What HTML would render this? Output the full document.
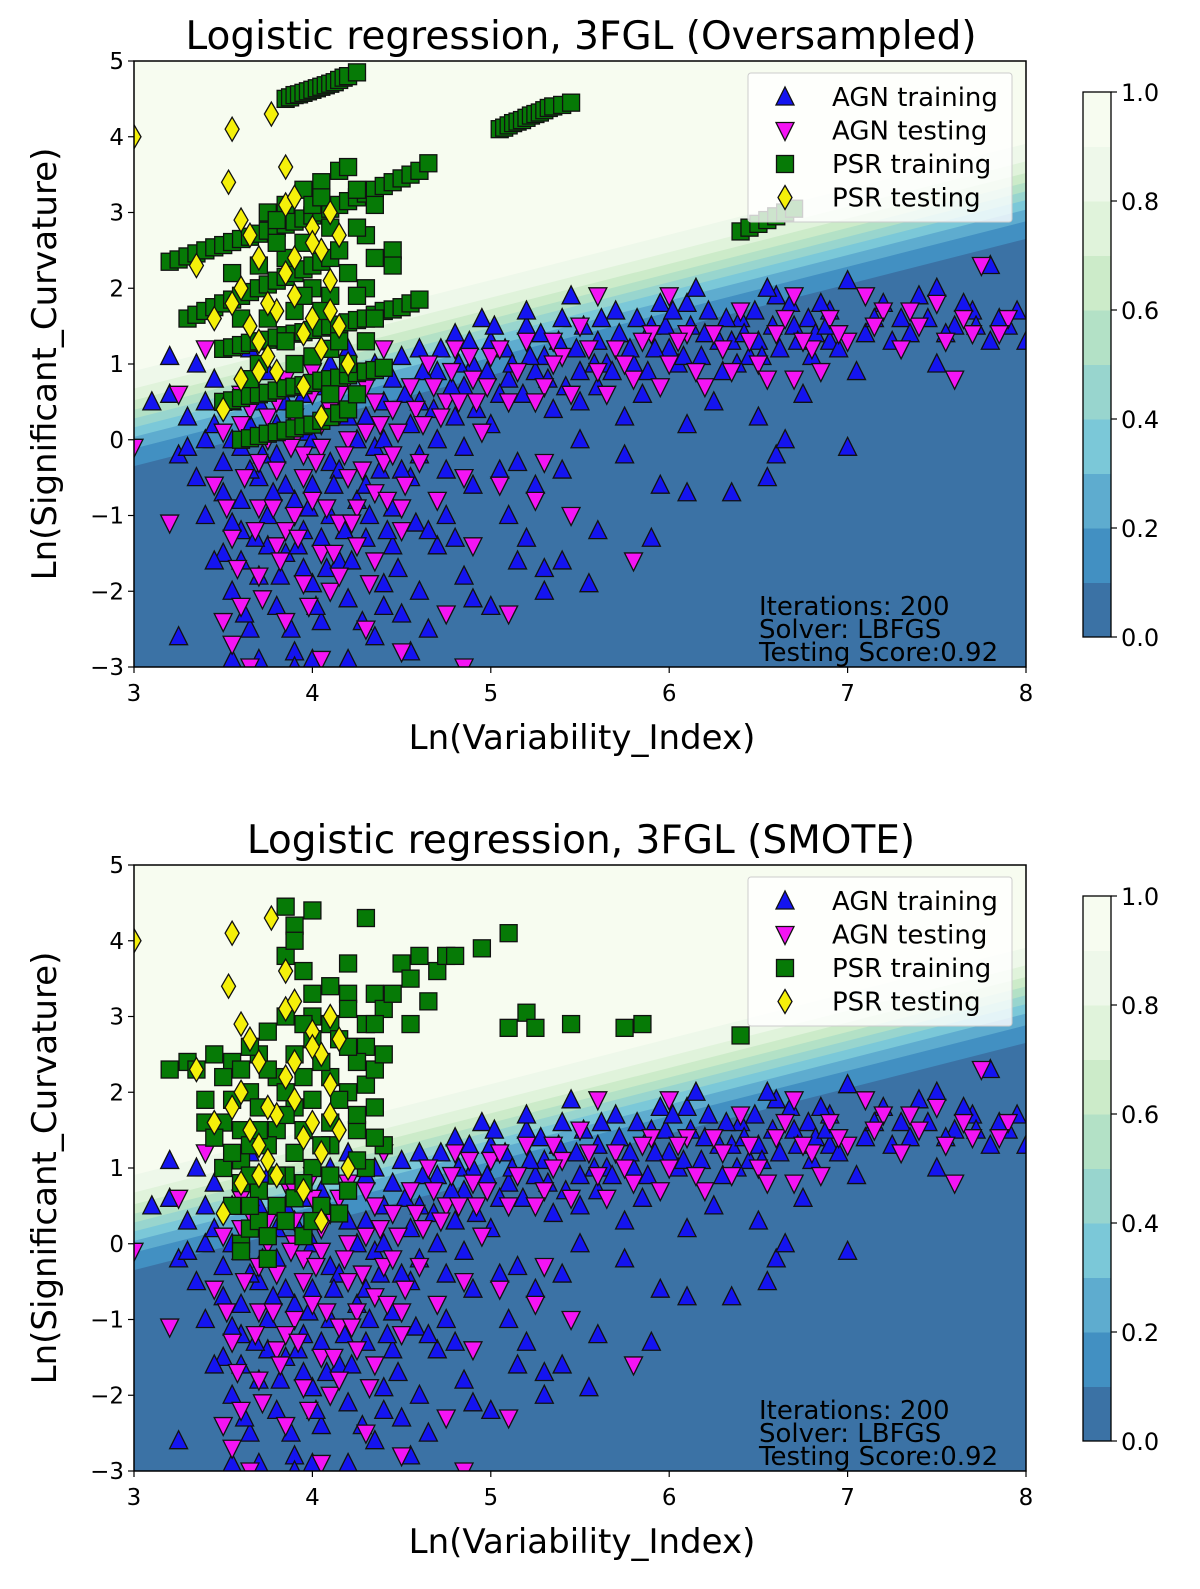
<!DOCTYPE html>
<html><head><meta charset="utf-8"><style>
html,body{margin:0;padding:0;background:#fff;overflow:hidden;width:1200px;height:1589px;}
svg{display:block;font-family:"DejaVu Sans","Liberation Sans",sans-serif;}
</style></head><body>
<svg id="fig" width="1200" height="1589" viewBox="0 0 1200 1589" xmlns="http://www.w3.org/2000/svg"></svg>
<script>
// ---- data ----
const agnTrain = [[4.6,1.2],[4.7,0.9],[4.8,1.4],[4.9,1.0],[5.0,1.3],[5.1,0.8],[5.2,1.5],[5.3,1.1],[5.4,1.6],[5.5,0.9],[5.6,1.3],[5.7,1.7],[5.8,1.0],[5.9,1.5],[6.0,1.2],[6.1,1.8],[6.2,1.4],[6.3,0.9],[6.4,1.6],[6.5,1.3],[6.6,1.9],[6.7,1.5],[6.8,1.1],[6.9,1.7],[7.0,2.1],[7.1,1.4],[7.2,1.8],[7.3,1.6],[7.4,1.9],[7.5,2.0],[7.6,1.5],[7.7,1.7],[7.8,2.3],[7.9,1.5],[8.0,1.3],[5.05,0.6],[5.35,0.4],[5.6,0.7],[5.85,0.6],[6.05,1.0],[6.25,0.5],[6.45,1.1],[6.75,0.6],[7.05,0.9],[7.5,1.0],[7.8,1.3],[6.1,0.2],[5.75,0.3],[5.45,1.9],[5.2,1.7],[4.95,1.6],[6.55,2.0],[6.15,2.0],[5.95,1.8],[6.85,1.8],[7.25,1.3],[7.65,1.8],[6.5,0.3],[6.6,-0.2],[6.55,-0.5],[6.65,0.0],[7.0,-0.1],[6.35,-0.7],[6.1,-0.7],[5.9,-1.3],[5.95,-0.6],[5.6,-1.2],[5.55,-1.9],[5.4,-1.6],[5.3,-1.7],[5.2,-1.3],[5.1,-1.0],[5.0,-2.2],[4.85,-1.8],[4.7,-1.4],[4.6,-2.0],[4.9,-0.6],[5.15,-0.3],[5.4,-0.4],[5.5,0.0],[5.75,-0.2],[4.75,-1.0],[4.55,-0.5],[4.65,-2.5],[4.55,-2.8],
[3.1,0.5],[3.2,0.6],[3.2,1.1],[3.25,-0.2],[3.3,0.3],[3.35,-0.5],[3.4,0.0],[3.4,-1.0],[3.45,0.8],[3.5,-0.3],[3.5,-1.5],[3.55,0.5],[3.55,-2.0],[3.6,-0.8],[3.6,-1.2],[3.65,0.2],[3.65,-2.5],[3.7,-0.5],[3.7,-1.8],[3.75,0.9],[3.75,-1.0],[3.8,-0.2],[3.8,-2.2],[3.85,-1.5],[3.85,0.5],[3.9,-0.8],[3.9,-2.8],[3.95,-1.2],[3.95,0.1],[4.0,-0.6],[4.0,-1.9],[4.05,0.7],[4.05,-2.4],[4.1,-1.0],[4.1,-0.3],[4.15,-1.6],[4.2,0.3],[4.2,-2.1],[4.25,-0.8],[4.3,-1.3],[4.3,0.9],[4.35,-0.1],[4.4,-1.9],[4.4,0.5],[4.45,-0.9],[4.5,1.1],[4.5,-0.4],[4.55,0.2],[3.25,-2.6],[3.55,-2.9],[3.7,-2.9],[3.9,-3.0],[4.0,-2.9],[4.2,-2.9],[4.35,-2.6],[4.4,-2.2],[3.45,-1.6],[3.6,-0.1],[3.75,-1.4],[3.85,-0.6],[4.15,-0.4],[4.25,0.0],[4.45,-1.4],[3.95,0.6],[4.1,1.0],[3.35,1.0],[3.65,1.2],[4.3,-0.6],[3.95,-1.7],[4.05,-1.3],[4.6,0.5],[4.8,0.3],[4.7,0.0],[5.0,0.2],[4.85,0.7],[5.25,0.9],[5.5,0.5],[5.65,1.0],[6.35,1.3],[6.9,1.3],
[3.5,-0.7],[3.55,-1.1],[3.6,-1.6],[3.62,-2.3],[3.68,-1.3],[3.72,-0.2],[3.78,-0.7],[3.82,-1.8],[3.88,-2.5],[3.92,-1.4],[3.98,-0.9],[4.02,-2.2],[4.08,-1.7],[4.12,-0.6],[4.18,-1.2],[4.22,-1.6],[4.28,-2.4],[4.32,-1.0],[4.38,-0.4],[4.42,-1.2],[4.48,-1.7],[4.52,0.6],[4.58,-1.1],[4.62,0.9],[4.68,0.4],[4.72,1.2],[4.78,0.7],[4.82,1.0],[4.88,1.3],[4.92,0.4],[4.98,0.9],[5.02,1.5],[5.08,1.2],[5.12,1.0],[5.18,0.6],[5.22,1.1],[5.28,1.4],[5.32,0.8],[5.38,1.3],[5.42,0.7],[5.48,1.2],[5.52,1.5],[5.58,1.0],[5.62,1.6],[5.68,0.9],[5.72,1.4],[5.78,1.2],[5.82,1.6],[5.88,0.9],[5.92,1.2],[5.98,1.5],[6.02,1.7],[6.08,1.1],[6.12,1.5],[6.18,1.1],[6.22,1.7],[6.28,1.3],[6.32,1.6],[6.38,1.0],[6.42,1.4],[6.48,1.7],[6.52,1.1],[6.58,1.5],[6.62,1.2],[6.68,1.8],[6.72,1.3],[6.78,1.6],[6.82,1.4],[6.88,1.5],[6.95,1.2],[7.15,1.6],[7.35,1.4],[7.45,1.6],[7.55,1.4],[7.72,1.5],[7.85,1.6],[7.95,1.7],[4.2,1.2],[4.35,1.0],[4.45,0.8],[4.6,-0.2],[4.75,-0.4],[4.85,-0.1],[5.05,-0.4],[5.25,-0.6],[4.65,-1.2],[4.8,-1.3],[5.15,-1.6],[5.3,-2.0],[4.9,-2.1],[4.5,-2.3],[3.3,-0.1],[3.4,0.5],[3.45,0.2],[3.55,0.0],[3.65,-0.4],[3.7,0.5],[3.8,0.2],[3.9,0.3],[4.0,0.0],[4.1,0.4],[4.3,0.3],[4.4,0.0]];
const agnTest = [[3.0,-0.1],[3.2,-1.1],[3.25,0.6],[3.4,1.2],[3.45,-0.6],[3.5,0.1],[3.55,-1.3],[3.6,-2.2],[3.65,0.4],[3.7,-0.9],[3.7,-1.8],[3.75,0.0],[3.8,-0.4],[3.8,-1.4],[3.85,0.8],[3.85,-2.4],[3.9,-1.0],[3.9,0.3],[3.95,-0.2],[3.95,-1.9],[4.0,0.6],[4.0,-0.8],[4.05,-1.5],[4.05,-0.1],[4.1,0.4],[4.1,-2.0],[4.15,-1.1],[4.2,0.8],[4.2,-0.5],[4.25,-1.4],[4.3,0.1],[4.3,-2.5],[4.35,-0.7],[4.4,1.2],[4.4,-0.3],[4.45,0.4],[4.5,-1.2],[4.55,0.7],[4.6,-0.3],[4.65,1.0],[4.7,-0.8],[4.75,0.5],[4.8,1.2],[4.85,-0.5],[4.9,0.8],[5.0,1.1],[5.1,0.5],[5.2,1.3],[5.3,0.7],[5.4,1.1],[5.5,1.5],[5.6,0.9],[5.7,1.2],[5.8,0.8],[5.9,1.4],[6.0,1.0],[6.1,1.4],[6.2,0.7],[6.3,1.2],[6.4,1.7],[6.5,1.0],[6.6,1.4],[6.7,0.8],[6.8,1.2],[6.9,1.6],[7.0,1.3],[7.2,1.7],[7.3,1.2],[7.5,1.8],[7.6,0.8],[7.7,1.4],[7.75,2.3],[7.9,1.6],[7.4,1.5],[5.8,-1.6],[5.05,-0.6],[5.25,-0.8],[4.75,-2.3],[5.1,-2.3],[4.9,-1.4],[4.5,-2.8],[4.85,-3.0],[3.55,-2.7],[3.5,-2.4],[3.65,-3.0],[4.05,-2.9],[4.5,-0.9],[5.45,-1.0],[5.3,-0.3],[4.95,0.1],[6.0,1.9],[5.6,1.9],[6.7,1.9],[7.1,1.9],[5.35,1.3],[3.6,0.6],[3.75,0.3],[3.9,0.0],[4.05,0.2],[4.2,0.0],[4.35,0.5],[4.25,-0.9],[3.95,-0.5],[3.7,-0.3],[4.15,-1.8],[3.85,-1.2],[4.35,-1.6],
[3.52,-0.9],[3.58,-1.7],[3.62,-0.5],[3.68,-1.2],[3.72,-2.1],[3.78,-0.9],[3.82,-1.6],[3.88,-0.1],[3.92,-1.3],[3.98,-2.2],[4.02,-0.3],[4.08,-0.9],[4.12,-1.5],[4.18,-0.2],[4.22,-1.1],[4.28,-0.4],[4.32,-1.9],[4.38,0.2],[4.42,-0.8],[4.48,0.1],[4.52,-0.6],[4.58,0.4],[4.62,0.2],[4.68,0.7],[4.72,0.3],[4.78,0.9],[4.82,0.5],[4.88,1.1],[4.92,0.5],[4.98,0.7],[5.05,1.2],[5.15,0.9],[5.25,0.5],[5.35,1.0],[5.45,0.6],[5.55,1.2],[5.65,0.6],[5.75,1.0],[5.85,1.3],[5.95,0.7],[6.05,1.3],[6.15,0.9],[6.25,1.4],[6.35,0.9],[6.45,1.3],[6.55,0.8],[6.65,1.6],[6.75,1.3],[6.85,0.9],[6.95,1.4],[7.15,1.5],[7.35,1.7],[7.55,1.3],[7.65,1.6],[7.85,1.4],[3.9,0.7],[4.0,0.9],[4.15,0.6],[4.3,0.7],[3.8,0.5],[3.6,0.2],[4.45,-0.2]];
const psrTest = [[3.0,4.0],[3.55,4.1],[3.53,3.4],[3.77,4.3],[3.85,3.6],[3.35,2.3],[3.6,2.9],[3.7,2.4],[3.85,3.1],[3.9,3.2],[4.0,2.8],[4.05,2.5],[4.1,3.0],[3.55,1.8],[3.6,2.0],[3.65,1.5],[3.7,1.3],[3.75,1.1],[3.8,1.7],[3.85,2.2],[3.9,1.9],[3.95,1.4],[4.0,1.6],[4.05,1.2],[4.1,2.1],[4.15,1.5],[4.2,1.0],[3.6,0.8],[3.5,0.4],[3.8,0.9],[3.95,0.7],[4.0,2.6],[4.15,2.7],[4.05,0.3],[3.9,2.4],[3.65,2.7],[3.75,1.8],[3.45,1.6],[4.1,1.7],[3.7,0.9]];
const psrTrainOver = [[3.85,4.5],[3.875,4.52],[3.9,4.55],[3.925,4.56],[3.95,4.58],[3.975,4.6],[4.0,4.62],[4.025,4.64],[4.05,4.66],[4.075,4.68],[4.1,4.7],[4.125,4.72],[4.15,4.75],[4.175,4.78],[4.2,4.8],[4.25,4.85],
[5.05,4.1],[5.075,4.12],[5.1,4.15],[5.125,4.18],[5.15,4.2],[5.175,4.22],[5.2,4.25],[5.225,4.28],[5.25,4.3],[5.275,4.32],[5.3,4.35],[5.325,4.38],[5.35,4.4],[5.4,4.42],[5.45,4.45],
[3.2,2.35],[3.25,2.38],[3.3,2.42],[3.35,2.46],[3.4,2.5],[3.45,2.54],[3.5,2.57],[3.55,2.61],[3.6,2.65],[3.65,2.68],[3.7,2.72],[3.75,2.76],[3.8,2.8],[3.85,2.84],[3.9,2.88],[3.95,2.92],[4.0,2.96],[4.05,3.0],[4.1,3.05],[4.15,3.1],[4.2,3.15],[4.25,3.2],[4.3,3.25],[4.35,3.3],[4.4,3.35],[4.45,3.4],[4.5,3.45],[4.55,3.5],[4.6,3.55],[4.65,3.65],
[3.3,1.6],[3.35,1.65],[3.4,1.7],[3.45,1.75],[3.5,1.8],[3.55,1.85],[3.6,1.9],[3.65,1.95],[3.7,2.0],[3.75,2.05],[3.8,2.1],[3.85,2.15],[3.9,2.2],[3.95,2.25],[4.0,2.3],[4.05,2.35],[4.1,2.4],
[3.5,1.2],[3.55,1.22],[3.6,1.25],[3.65,1.28],[3.7,1.3],[3.75,1.32],[3.8,1.35],[3.85,1.38],[3.9,1.4],[3.95,1.42],[4.0,1.45],[4.05,1.48],[4.1,1.5],[4.15,1.52],[4.2,1.55],[4.25,1.58],[4.3,1.6],[4.35,1.65],[4.4,1.7],[4.45,1.72],[4.5,1.75],[4.55,1.8],[4.6,1.85],
[3.5,0.5],[3.55,0.52],[3.6,0.55],[3.65,0.58],[3.7,0.6],[3.75,0.62],[3.8,0.65],[3.85,0.68],[3.9,0.7],[3.95,0.72],[4.0,0.75],[4.05,0.78],[4.1,0.8],[4.15,0.82],[4.2,0.85],[4.25,0.88],[4.3,0.9],[4.35,0.92],[4.4,0.95],
[3.6,0.0],[3.65,0.02],[3.7,0.05],[3.75,0.08],[3.8,0.1],[3.85,0.12],[3.9,0.15],[3.95,0.18],[4.0,0.2],[4.05,0.25],[4.1,0.3],[4.15,0.35],[4.2,0.4],
[6.4,2.75],[6.45,2.8],[6.5,2.85],[6.55,2.9],[6.6,2.95],[6.65,3.0],[6.7,3.05],
[3.85,3.1],[3.95,3.3],[4.05,3.4],[4.15,3.55],[4.2,3.6],[4.25,3.3],[4.35,3.1],[4.45,2.5],[4.45,2.3],[4.1,2.8],[3.95,2.6],[3.85,2.4],[4.0,2.0],[4.2,2.2],[4.3,2.0],[3.9,1.7],[4.1,1.2],[4.3,1.3],[3.7,1.0],[4.2,1.0],[4.0,3.1],[4.3,2.7],[3.75,3.0],[3.8,2.6],[4.25,1.9],[4.35,1.6],[3.6,1.6],[3.75,1.6],[4.1,1.9],[3.9,1.0],[4.0,1.1],[3.7,2.3],[3.55,2.2],[4.15,2.5],[4.35,2.4],[4.25,2.8],[3.95,1.9],[3.85,1.3],[4.05,1.7],[4.15,1.3],[3.65,0.8],[3.9,0.4],[4.1,0.6],[4.25,0.6],[3.8,2.9],[4.05,3.2]];
const psrTrainSmote = [[4.3,4.3],[4.2,3.7],[4.0,4.4],[3.85,4.45],[3.9,4.2],[4.5,3.7],[4.6,3.8],[4.7,3.6],[4.75,3.8],[4.8,3.8],[4.95,3.9],[5.1,4.1],[4.55,3.5],[4.65,3.2],[4.55,2.9],[5.1,2.85],[5.2,3.05],[5.25,2.85],[5.45,2.9],[5.75,2.85],[5.85,2.9],[6.4,2.75],[4.0,3.3],[4.2,3.3],[4.35,3.3],[3.2,2.3],[3.3,2.4],[3.45,2.5],[3.55,2.4],[3.35,2.3],[3.4,1.6],[3.5,1.6],[3.4,1.9],[3.6,1.5],[3.5,1.0],[3.55,0.5],[3.6,0.0],[3.65,0.2],[3.7,0.3],[3.8,0.5],[3.9,0.6],[3.95,0.1],[3.75,-0.2],[3.7,0.7],[3.6,1.1],[3.65,2.0],[3.8,2.2],[3.9,2.5],[4.0,2.7],[4.1,2.9],[4.2,3.1],[3.85,3.0],[3.75,2.8],[3.7,2.5],[4.0,1.9],[4.1,2.2],[4.2,2.0],[4.3,2.1],[4.25,1.5],[4.1,1.3],[4.0,1.0],[3.9,1.2],[3.8,1.5],[3.7,1.8],[4.3,1.0],[4.2,0.7],[4.05,0.5],[3.85,0.9],[4.3,2.6],[4.25,2.4],[3.95,3.6],[3.85,3.8],[3.9,4.0],[3.6,0.8],[3.75,1.3],[3.55,1.9],[3.9,1.8],[4.1,1.6],[4.35,1.8],[4.4,1.3],
[3.6,-0.1],[3.65,0.5],[3.75,0.1],[3.8,0.9],[3.85,0.3],[3.95,0.8],[4.0,0.3],[4.1,0.9],[4.15,0.4],[4.25,1.1],[4.35,1.4],[3.65,1.3],[3.7,1.5],[3.85,1.7],[3.95,1.5],[4.05,1.3],[4.15,1.9],[4.25,1.7],[4.35,2.3],[4.4,2.5],[4.4,3.1],[4.3,2.9],[4.15,2.7],[4.05,2.4],[3.95,2.2],[3.85,2.0],[3.75,2.3],[3.65,2.6],[3.6,2.3],[3.5,2.2],[3.45,1.4],[3.55,1.2],[3.65,0.9],[4.0,3.0],[4.1,3.4],[3.95,2.9],[4.45,3.3],[4.35,2.9],[4.2,2.6]];
const xTicks = [3,4,5,6,7,8];
const yTicks = [-3,-2,-1,0,1,2,3,4,5];
const cbTicks = [0.0,0.2,0.4,0.6,0.8,1.0];
const levelColors = ['#3b72a5','#4290c2','#5eaccf','#7bc8d8','#98d5ce','#b3e1c6','#ccebc9','#e0f3db','#eef8ea','#f7fcf0'];
const boundary = {x0:3, y0:0.28, slope:0.6, k:3.5};

const NS='http://www.w3.org/2000/svg';
const svg=document.getElementById('fig');
function mk(tag,attrs,parent){const e=document.createElementNS(NS,tag);for(const k in attrs)e.setAttribute(k,attrs[k]);(parent||svg).appendChild(e);return e;}

function drawPanel(top, title, psrTrain, pid){
  const L=134,R=1026,T=top,B=top+606;
  const sx=v=>L+(v-3)/5*(R-L);
  const sy=v=>B-(v+3)/8*(B-T);
  const g=mk('g',{});
  
  
  const cid='clip'+pid;
  const cp=mk('clipPath',{id:cid},g);mk('rect',{x:L,y:T,width:R-L,height:B-T},cp);
  const bg=mk('g',{'clip-path':'url(#'+cid+')'},g);
  
  
  for(let i=0;i<10;i++){
    const lv=i/10;
    let off = lv===0 ? -100 : Math.log(lv/(1-lv))/boundary.k;
    const yl=x=>boundary.y0+boundary.slope*(x-boundary.x0)+off;
    const pts=[[sx(2),sy(yl(2))],[sx(9),sy(yl(9))],[sx(9),T-100],[sx(2),T-100]];
    if(lv===0){pts[0][1]=B+100;pts[1][1]=B+100;}
    const p=mk('polygon',{points:pts.map(p=>p.join(',')).join(' '),fill:levelColors[i]},bg);
    
    
  }
  const mg=mk('g',{'clip-path':'url(#'+cid+')'},g);
  function tri(x,y,up){const s=9;const h=8;
    return up?`${x-s},${y+h} ${x+s},${y+h} ${x},${y-h-2}`:`${x-s},${y-h} ${x+s},${y-h} ${x},${y+h+2}`;}
  agnTrain.forEach(d=>{const m=mk('polygon',{points:tri(sx(d[0]),sy(d[1]),true),fill:'#1414f0',stroke:'#111','stroke-width':1.3},mg);
    });
  agnTest.forEach(d=>{const m=mk('polygon',{points:tri(sx(d[0]),sy(d[1]),false),fill:'#f414f4',stroke:'#111','stroke-width':1.3},mg);
    });
  psrTrain.forEach(d=>{const m=mk('rect',{x:sx(d[0])-8.5,y:sy(d[1])-8.5,width:17,height:17,fill:'#067a06',stroke:'#111','stroke-width':1.3},mg);
    });
  psrTest.forEach(d=>{const x=sx(d[0]),y=sy(d[1]);const m=mk('polygon',{points:`${x},${y-12} ${x+7},${y} ${x},${y+12} ${x-7},${y}`,fill:'#f5f00a',stroke:'#111','stroke-width':1.3},mg);
    });
  const fr=mk('rect',{x:L,y:T,width:R-L,height:B-T,fill:'none',stroke:'#000','stroke-width':1.5},g);
  
  xTicks.forEach(v=>{mk('line',{x1:sx(v),x2:sx(v),y1:B,y2:B+6,stroke:'#000','stroke-width':1.2},g);
    const t=mk('text',{x:sx(v),y:B+34,'font-size':23,'text-anchor':'middle'},g);t.textContent=v;
    });
  yTicks.forEach(v=>{mk('line',{x1:L-6,x2:L,y1:sy(v),y2:sy(v),stroke:'#000','stroke-width':1.2},g);
    const t=mk('text',{x:L-10,y:sy(v)+8,'font-size':23,'text-anchor':'end'},g);t.textContent=v<0?'\u2212'+(-v):v;
    });
  let t=mk('text',{x:581,y:T-12,'font-size':39,'text-anchor':'middle'},g);t.textContent=title;
  
  t=mk('text',{x:582,y:B+82,'font-size':34,'text-anchor':'middle'},g);t.textContent='Ln(Variability_Index)';
  
  t=mk('text',{x:0,y:0,'font-size':34,'text-anchor':'middle',transform:`translate(56,${(T+B)/2}) rotate(-90)`},g);t.textContent='Ln(Significant_Curvature)';
  
  const lg=mk('g',{},g);
  
  mk('rect',{x:748,y:T+12,width:264,height:149,fill:'#fff','fill-opacity':0.8,stroke:'#ccc',rx:3},lg);
  const labels=['AGN training','AGN testing','PSR training','PSR testing'];
  labels.forEach((lb,i)=>{const y=T+36+i*33.5,x=785;
    if(i===0)mk('polygon',{points:tri(x,y,true),fill:'#1414f0',stroke:'#111','stroke-width':1.3},lg);
    if(i===1)mk('polygon',{points:tri(x,y,false),fill:'#f414f4',stroke:'#111','stroke-width':1.3},lg);
    if(i===2)mk('rect',{x:x-8.5,y:y-8.5,width:17,height:17,fill:'#067a06',stroke:'#111','stroke-width':1.3},lg);
    if(i===3)mk('polygon',{points:`${x},${y-12} ${x+7},${y} ${x},${y+12} ${x-7},${y}`,fill:'#f5f00a',stroke:'#111','stroke-width':1.3},lg);
    const tt=mk('text',{x:832,y:y+9,'font-size':26},lg);tt.textContent=lb;
    });
  ['Iterations: 200','Solver: LBFGS','Testing Score:0.92'].forEach((s,i)=>{
    const tt=mk('text',{x:759,y:T+554+i*23,'font-size':26},g);tt.textContent=s;
    });
  const cT=top+31,cB=top+576,cL=1083,cW=28;
  const cb=mk('g',{},g);
  
  levelColors.forEach((c,i)=>{const h=(cB-cT)/10;mk('rect',{x:cL,y:cB-(i+1)*h,width:cW,height:h+0.5,fill:c},cb);});
  mk('rect',{x:cL,y:cT,width:cW,height:cB-cT,fill:'none',stroke:'#000','stroke-width':1.3},cb);
  cbTicks.forEach(v=>{const y=cB-v*(cB-cT);mk('line',{x1:cL+cW,x2:cL+cW+6,y1:y,y2:y,stroke:'#000','stroke-width':1.2},cb);
    const tt=mk('text',{x:cL+cW+10,y:y+9,'font-size':24},cb);tt.textContent=v.toFixed(1);
    });
}
drawPanel(61,'Logistic regression, 3FGL (Oversampled)',psrTrainOver,'oversampled');
drawPanel(865,'Logistic regression, 3FGL (SMOTE)',psrTrainSmote,'smote');
</script>
</body></html>
